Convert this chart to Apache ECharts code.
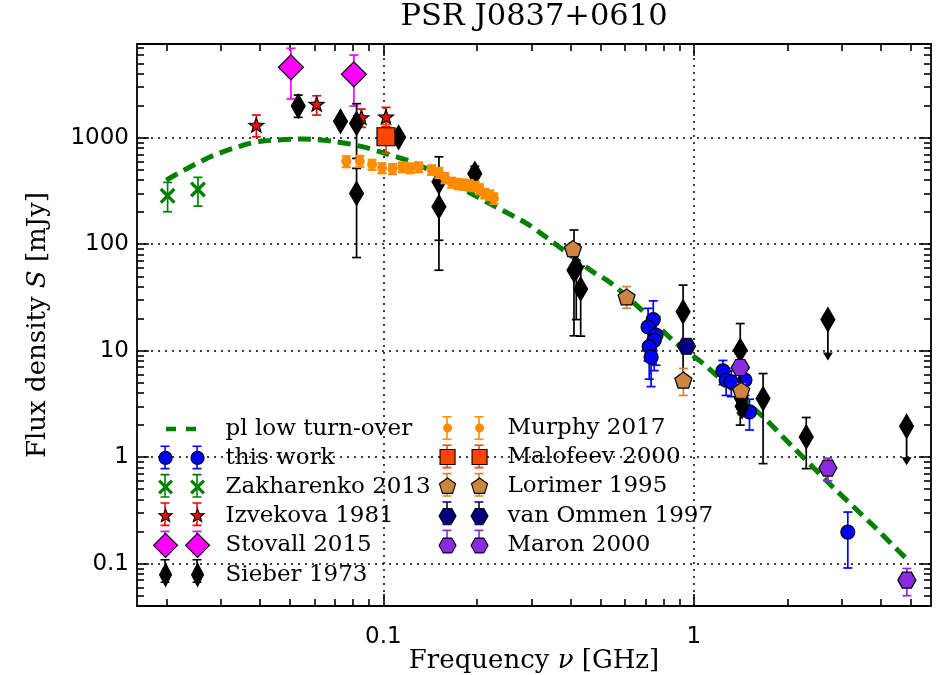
<!DOCTYPE html>
<html><head><meta charset="utf-8">
<script src="https://cdn.jsdelivr.net/npm/echarts@6/dist/echarts.min.js"></script>
<style>html,body{margin:0;padding:0;background:#fff}#c{width:943px;height:675px}</style>
</head><body><div id="c"></div>
<script>
// ---------------- data ----------------
const curveFreq = [0.020, 0.027, 0.0354, 0.041, 0.055, 0.0707, 0.086, 0.100, 0.119, 0.141, 0.164, 0.220, 0.289, 0.331, 0.473, 0.536, 0.670, 0.856, 1.07, 1.18, 1.67, 2.08, 2.80, 3.77, 4.78, 5.0];
const curveFlux = [400, 640, 853, 931, 973, 917, 822, 722, 617, 497, 386, 241, 157, 119, 55, 44, 25, 12.5, 7.6, 5.9, 2.39, 1.25, 0.525, 0.229, 0.115, 0.105];

const thisWorkFreq = [0.740, 0.712, 0.755, 0.745, 0.718, 0.728, 1.24, 1.27, 1.32, 1.46, 1.51, 3.13];
const thisWorkFlux = [19.6, 16.7, 14.0, 12.5, 10.9, 8.7, 6.46, 5.3, 5.1, 5.3, 2.66, 0.198];
const thisWorkLo   = [10, 8, 7.3, 6.5, 5.4, 4.6, 4.8, 3.8, 3.7, 3.8, 1.8, 0.091];
const thisWorkHi   = [29.4, 25, 21, 18, 16, 13, 8.1, 6.8, 6.5, 6.8, 3.5, 0.305];

const zakFreq = [0.0202, 0.0253];
const zakFlux = [285, 327];
const zakLo   = [202, 228];
const zakHi   = [381, 425];

const izvFreq = [0.039, 0.061, 0.085, 0.102];
const izvFlux = [1316, 2073, 1555, 1575];
const izvLo   = [1022, 1634, 1252, 1269];
const izvHi   = [1634, 2481, 1861, 1931];

const stoFreq = [0.0504, 0.0804];
const stoFlux = [4588, 3944];
const stoLo   = [2311, 1986];
const stoHi   = [6922, 5989];

const sieFreq = [0.0532, 0.0728, 0.082, 0.082, 0.112, 0.151, 0.151, 0.197, 0.411, 0.418, 0.432, 0.923, 1.41, 1.42, 1.43, 1.67, 2.30];
const sieFlux = [1986, 1426, 1365, 300, 1009, 386, 225, 460, 57, 60, 38, 23.2, 10.1, 3.6, 3.0, 3.55, 1.55];
const sieLo   = [1555, 1300, 640, 75, 950, 109, 57, 383, 13.8, 19.6, 13.7, 5.2, 2.0, 2.6, 2.5, 0.87, 0.78];
const sieHi   = [2519, 1560, 2090, 516, 1070, 663, 393, 540, 136, 100, 62, 41.3, 18, 4.6, 3.5, 6.1, 2.36];
const sieLimFreq = [2.70, 4.84];
const sieLimFlux = [19.6, 1.95];
const sieLimEnd  = [8.1, 0.84];

const murFreq = [0.076, 0.084, 0.092, 0.099, 0.107, 0.115, 0.122, 0.130, 0.143, 0.151, 0.158, 0.166, 0.174, 0.181, 0.189, 0.197, 0.204, 0.212, 0.220, 0.227];
const murFlux = [600, 605, 560, 520, 510, 530, 520, 530, 500, 470, 420, 380, 370, 365, 360, 350, 330, 300, 290, 270];
const murErr  = [70, 70, 60, 55, 55, 55, 55, 55, 50, 50, 45, 40, 40, 40, 40, 35, 35, 30, 30, 30];

const malFreq = [0.102];
const malFlux = [1022];
const malLo   = [714];
const malHi   = [1330];

const lorFreq = [0.408, 0.607, 0.925, 1.42];
const lorFlux = [91, 32, 5.3, 4.25];
const lorLo   = [80, 25, 3.8, 3.6];
const lorHi   = [102, 40, 6.8, 4.9];

const vomFreq = [0.947];
const vomFlux = [11.0];
const vomLo   = [10.0];
const vomHi   = [12.0];

const marFreq = [1.41, 2.70, 4.85];
const marFlux = [6.95, 0.79, 0.070];
const marLo   = [6.3, 0.60, 0.050];
const marHi   = [7.6, 0.98, 0.090];

const xMajorTicks = [0.1, 1];
const xMinorTicks = [0.02, 0.03, 0.04, 0.05, 0.06, 0.07, 0.08, 0.09, 0.2, 0.3, 0.4, 0.5, 0.6, 0.7, 0.8, 0.9, 2, 3, 4, 5];
const yMajorTicks = [0.1, 1, 10, 100, 1000];
const yMinorTicks = [0.05, 0.06, 0.07, 0.08, 0.09, 0.2, 0.3, 0.4, 0.5, 0.6, 0.7, 0.8, 0.9, 2, 3, 4, 5, 6, 7, 8, 9,
  20, 30, 40, 50, 60, 70, 80, 90, 200, 300, 400, 500, 600, 700, 800, 900, 2000, 3000, 4000, 5000, 6000, 7000];

const X_MIN = 0.0161, X_MAX = 5.8, Y_MIN = 0.04, Y_MAX = 7600;

// ---------------- shapes ----------------
function ptsToPath(pts) { return 'M' + pts.map(p => p[0].toFixed(2) + ' ' + p[1].toFixed(2)).join(' L') + ' Z'; }
const SHAPES = {
  circle: () => { const a = []; for (let i = 0; i < 28; i++) { const t = i / 28 * 2 * Math.PI; a.push([Math.cos(t), Math.sin(t)]); } return [a]; },
  square: () => [[[-1, -1], [1, -1], [1, 1], [-1, 1]]],
  diamond: () => [[[0, -1], [1, 0], [0, 1], [-1, 0]]],
  star: () => { const a = []; for (let i = 0; i < 10; i++) { const r = i % 2 ? 0.42 : 1; const t = (-90 + i * 36) * Math.PI / 180; a.push([r * Math.cos(t), r * Math.sin(t)]); } return [a]; },
  pentagon: () => { const a = []; for (let i = 0; i < 5; i++) { const t = (-90 + i * 72) * Math.PI / 180; a.push([Math.cos(t), Math.sin(t)]); } return [a]; },
  hexagon: () => { const a = []; for (let i = 0; i < 6; i++) { const t = (i * 60) * Math.PI / 180; a.push([Math.cos(t), Math.sin(t)]); } return [a]; },
  x: () => { const t = 0.3; return [[[-1, -1 + t], [-1 + t, -1], [1, 1 - t], [1 - t, 1]], [[1 - t, -1], [1, -1 + t], [-1 + t, 1], [-1, 1 - t]]]; }
};
function shapePath(shape, cx, cy, rx, ry) {
  return SHAPES[shape]().map(poly => ptsToPath(poly.map(p => [cx + p[0] * rx, cy + p[1] * ry]))).join(' ');
}
function symbolOf(shape) { return 'path://' + shapePath(shape, 50, 50, 50, 50); }

// ---------------- legend icons ----------------
const IW = 68, IH = 26, C1 = 13, C2 = 45, CY = 13;
const ANCH = 'M0 0 L0 0.01 Z M' + IW + ' ' + IH + ' L' + IW + ' ' + (IH - 0.01) + ' Z';
function rectP(x1, y1, x2, y2) { return ptsToPath([[x1, y1], [x2, y1], [x2, y2], [x1, y2]]); }
function barsIcon() {
  const one = c => rectP(c - 0.8, 1, c + 0.8, 25) + ' ' + rectP(c - 4.5, 1, c + 4.5, 2.6) + ' ' + rectP(c - 4.5, 23.4, c + 4.5, 25);
  return 'path://' + ANCH + ' ' + one(C1) + ' ' + one(C2);
}
function marksIcon(shape, rx, ry) {
  return 'path://' + ANCH + ' ' + shapePath(shape, C1, CY, rx, ry) + ' ' + shapePath(shape, C2, CY, rx, ry);
}
const dashIcon = 'path://' + ANCH + ' ' + rectP(14, 10.8, 24, 15.2) + ' ' + rectP(34, 10.8, 44, 15.2);

// ---------------- series specs ----------------
const specs = [
  { name: 'this work', fr: thisWorkFreq, fl: thisWorkFlux, lo: thisWorkLo, hi: thisWorkHi, shape: 'circle', size: 14, fill: '#0000ff', edge: '#000', bar: '#0000ff', lrx: 6.5, lry: 6.5 },
  { name: 'Zakharenko 2013', fr: zakFreq, fl: zakFlux, lo: zakLo, hi: zakHi, shape: 'x', size: 16, fill: '#008000', edge: null, bar: '#008000', lrx: 7.5, lry: 7.5 },
  { name: 'Izvekova 1981', fr: izvFreq, fl: izvFlux, lo: izvLo, hi: izvHi, shape: 'star', size: [15, 14], fill: '#ff0000', edge: '#000', bar: '#ff0000', lrx: 7, lry: 7 },
  { name: 'Stovall 2015', fr: stoFreq, fl: stoFlux, lo: stoLo, hi: stoHi, shape: 'diamond', size: 25, fill: '#ff00ff', edge: '#000', bar: '#ff00ff', lrx: 12, lry: 12 },
  { name: 'Sieber 1973', fr: sieFreq.concat(sieLimFreq), fl: sieFlux.concat(sieLimFlux), lo: sieLo, hi: sieHi, errFr: sieFreq, errFl: sieFlux, shape: 'diamond', size: [14, 24], fill: '#000', edge: '#000', bar: '#000', lrx: 6, lry: 11.5 },
  { name: 'Murphy 2017', fr: murFreq, fl: murFlux, lo: murFlux.map((v, i) => v - murErr[i]), hi: murFlux.map((v, i) => v + murErr[i]), shape: 'circle', size: 10, fill: '#ff8c00', edge: null, bar: '#ff8c00', barW: 2.4, lrx: 4.5, lry: 4.5 },
  { name: 'Malofeev 2000', fr: malFreq, fl: malFlux, lo: malLo, hi: malHi, shape: 'square', size: 18, fill: '#ff4500', edge: '#000', bar: '#ff4500', lrx: 7.5, lry: 7.5 },
  { name: 'Lorimer 1995', fr: lorFreq, fl: lorFlux, lo: lorLo, hi: lorHi, shape: 'pentagon', size: [17, 16], fill: '#cd853f', edge: '#000', bar: '#cd853f', lrx: 8.5, lry: 8.5 },
  { name: 'van Ommen 1997', fr: vomFreq, fl: vomFlux, lo: vomLo, hi: vomHi, shape: 'hexagon', size: [18, 16], fill: '#000080', edge: '#000', bar: '#000080', lrx: 8.5, lry: 8.5 },
  { name: 'Maron 2000', fr: marFreq, fl: marFlux, lo: marLo, hi: marHi, shape: 'hexagon', size: [18, 16], fill: '#8a2be2', edge: '#000', bar: '#8a2be2', lrx: 8.5, lry: 8.5 }
];

function errRender(color, w) {
  return function (params, api) {
    const f = api.value(0);
    const a = api.coord([f, api.value(2)]);
    const b = api.coord([f, api.value(3)]);
    const cap = 4.5, st = { stroke: color, lineWidth: w };
    return { type: 'group', children: [
      { type: 'line', shape: { x1: a[0], y1: a[1], x2: b[0], y2: b[1] }, style: st },
      { type: 'line', shape: { x1: a[0] - cap, y1: a[1], x2: a[0] + cap, y2: a[1] }, style: st },
      { type: 'line', shape: { x1: b[0] - cap, y1: b[1], x2: b[0] + cap, y2: b[1] }, style: st }
    ] };
  };
}

const series = [{
  type: 'line', name: 'pl low turn-over', data: curveFreq.map((f, i) => [f, curveFlux[i]]),
  showSymbol: false, symbol: 'none', smooth: 0.3, z: 1, silent: true,
  lineStyle: { color: '#008000', width: 5, type: [13, 7] }, itemStyle: { color: '#008000' }
}];
specs.forEach((s, k) => {
  const ef = s.errFr || s.fr;
  series.push({
    type: 'custom', name: s.name + ' (err)', z: 2 + 2 * k, silent: true,
    data: ef.map((f, i) => [f, (s.errFl || s.fl)[i], s.lo[i], s.hi[i]]),
    encode: { x: 0, y: 1 }, renderItem: errRender(s.bar, s.barW || 1.7)
  });
  let sym = s.shape === 'circle' ? 'circle' : s.shape === 'square' ? 'rect' : s.shape === 'diamond' ? 'diamond' : symbolOf(s.shape);
  series.push({
    type: 'scatter', name: s.name, z: 3 + 2 * k, silent: true,
    data: s.fr.map((f, i) => [f, s.fl[i]]),
    symbol: sym, symbolSize: s.size,
    itemStyle: { color: s.fill, borderColor: s.edge || s.fill, borderWidth: s.edge ? 1.2 : 0, opacity: 1 }
  });
  if (s.name === 'Sieber 1973') {
    series.push({
      type: 'custom', name: 'Sieber 1973 (limits)', z: 2 + 2 * k, silent: true,
      data: sieLimFreq.map((f, i) => [f, sieLimFlux[i], sieLimEnd[i]]),
      encode: { x: 0, y: 1 },
      renderItem: function (params, api) {
        const f = api.value(0);
        const a = api.coord([f, api.value(1)]);
        const b = api.coord([f, api.value(2)]);
        return { type: 'group', children: [
          { type: 'line', shape: { x1: a[0], y1: a[1], x2: b[0], y2: b[1] - 6 }, style: { stroke: '#000', lineWidth: 1.8 } },
          { type: 'polygon', shape: { points: [[b[0] - 5, b[1] - 8], [b[0] + 5, b[1] - 8], [b[0], b[1]]] }, style: { fill: '#000' } }
        ] };
      }
    });
  }
});

// ---------------- legends ----------------
const leftNames = ['pl low turn-over', 'this work', 'Zakharenko 2013', 'Izvekova 1981', 'Stovall 2015', 'Sieber 1973'];
const rightNames = ['Murphy 2017', 'Malofeev 2000', 'Lorimer 1995', 'van Ommen 1997', 'Maron 2000'];
function specOf(n) { return specs.find(s => s.name === n); }
function barsData(names) {
  return names.map(n => {
    if (n === 'pl low turn-over') return { name: n, icon: dashIcon, itemStyle: { color: '#008000', borderWidth: 0, opacity: 1 } };
    const s = specOf(n);
    return { name: n, icon: barsIcon(), itemStyle: { color: s.bar, borderWidth: 0, opacity: 1 } };
  });
}
function marksData(names) {
  return names.map(n => {
    if (n === 'pl low turn-over') return { name: n, icon: 'none' };
    const s = specOf(n);
    return { name: n, icon: marksIcon(s.shape, s.lrx, s.lry), itemStyle: { color: s.fill, borderColor: s.edge || s.fill, borderWidth: s.edge ? 1.1 : 0, opacity: 1 } };
  });
}
const legBase = {
  orient: 'vertical', itemWidth: IW, itemHeight: IH, itemGap: 2.4, padding: 0, selectedMode: false,
  symbolKeepAspect: true, inactiveColor: '#000',
  textStyle: { fontFamily: 'DejaVu Serif', fontSize: 23, color: '#000', lineHeight: 26 }
};
const legends = [
  Object.assign({}, legBase, { left: 152, top: 416, z: 20, data: barsData(leftNames), formatter: () => '' }),
  Object.assign({}, legBase, { left: 152, top: 416, z: 21, data: marksData(leftNames) }),
  Object.assign({}, legBase, { left: 434, top: 415, z: 20, data: barsData(rightNames), formatter: () => '' }),
  Object.assign({}, legBase, { left: 434, top: 415, z: 21, data: marksData(rightNames) })
];

// ---------------- axes ----------------
const LAB = { fontFamily: 'DejaVu Sans', fontSize: 23, color: '#000' };
const NAMEFONT = { fontFamily: 'DejaVu Serif', fontSize: 26, color: '#000' };
function axis(dim, pos, ticks, len, primary, labelled) {
  const ax = {
    type: 'log', logBase: 10, position: pos, gridIndex: 0,
    min: dim === 'x' ? X_MIN : Y_MIN, max: dim === 'x' ? X_MAX : Y_MAX,
    axisLine: primary ? { show: true, lineStyle: { color: '#000', width: 1.8 } } : { show: false },
    axisTick: { show: true, inside: true, length: len, customValues: ticks, lineStyle: { color: '#000', width: 1.6 } },
    axisLabel: labelled ? Object.assign({ show: true, customValues: ticks, margin: dim === 'x' ? 20 : 8,
      formatter: v => (v >= 1 ? String(Math.round(v)) : String(+v.toPrecision(3))) }, LAB) : { show: false },
    splitLine: labelled ? { show: true, lineStyle: { color: '#000', width: 1.5, type: [2, 5] } } : { show: false },
    minorTick: { show: false }, minorSplitLine: { show: false }
  };
  return ax;
}
const xAxes = [
  Object.assign(axis('x', 'bottom', xMajorTicks, 12, true, true), {
    name: 'Frequency {i|ν} [GHz]', nameLocation: 'middle', nameGap: 42, nameMoveOverlap: false,
    nameTextStyle: Object.assign({ rich: { i: Object.assign({ fontStyle: 'italic' }, NAMEFONT) } }, NAMEFONT)
  }),
  axis('x', 'bottom', xMinorTicks, 7, false, false),
  axis('x', 'top', xMajorTicks, 12, true, false),
  axis('x', 'top', xMinorTicks, 7, false, false)
];
const yAxes = [
  Object.assign(axis('y', 'left', yMajorTicks, 12, true, true), {
    name: 'Flux density {i|S} [mJy]', nameLocation: 'middle', nameGap: 86, nameRotate: 90, nameMoveOverlap: false,
    nameTextStyle: Object.assign({ rich: { i: Object.assign({ fontStyle: 'italic' }, NAMEFONT) } }, NAMEFONT)
  }),
  axis('y', 'left', yMinorTicks, 7, false, false),
  axis('y', 'right', yMajorTicks, 12, true, false),
  axis('y', 'right', yMinorTicks, 7, false, false)
];

const chart = echarts.init(document.getElementById('c'), null, { renderer: 'canvas' });
chart.setOption({
  backgroundColor: '#fff',
  animation: false,
  title: { text: 'PSR J0837+0610', left: 534, top: 2, textAlign: 'center', padding: 0,
    textStyle: { fontFamily: 'DejaVu Serif', fontSize: 30.5, fontWeight: 'normal', color: '#000' } },
  grid: { left: 137, right: 12, top: 44, bottom: 69, containLabel: false, outerBoundsMode: 'none' },
  xAxis: xAxes,
  yAxis: yAxes,
  legend: legends,
  series: series
});
</script></body></html>
